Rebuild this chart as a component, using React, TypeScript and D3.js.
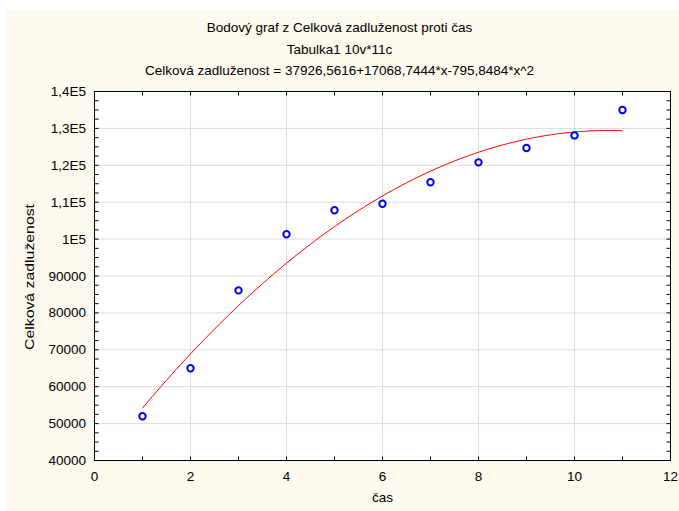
import React from "react";
import * as d3 from "d3";

// Observed values: time (čas) vs total debt (Celková zadluženost)
const casValues = [1, 2, 3, 4, 5, 6, 7, 8, 9, 10, 11];
const zadluzenost = [52000, 65000, 86100, 101300, 107800, 109600, 115400, 120800, 124700, 128100, 135000];

// Quadratic fit coefficients: a + b*x + c*x^2
const fitCoefficients = [37926.5616, 17068.7444, -795.8484];

const xTicks = [0, 2, 4, 6, 8, 10, 12];
const yTicks = [40000, 50000, 60000, 70000, 80000, 90000, 100000, 110000, 120000, 130000, 140000];
const yTickLabels = ["40000", "50000", "60000", "70000", "80000", "90000", "1E5", "1,1E5", "1,2E5", "1,3E5", "1,4E5"];

const titleLines = [
  "Bodový graf z Celková zadluženost proti čas",
  "Tabulka1 10v*11c",
  "Celková zadluženost = 37926,5616+17068,7444*x-795,8484*x^2",
];
const xAxisTitle = "čas";
const yAxisTitle = "Celková zadluženost";

const W = 679;
const H = 511;
const plot = { left: 94.5, top: 91.5, right: 670.5, bottom: 460.5 };
const font = "'Liberation Sans', Arial, sans-serif";
const fs = 13.5;

export default function App() {
  const x = d3.scaleLinear().domain([0, 12]).range([plot.left, plot.right]);
  const y = d3.scaleLinear().domain([40000, 140000]).range([plot.bottom, plot.top]);

  const fit = (t: number) => fitCoefficients[0] + fitCoefficients[1] * t + fitCoefficients[2] * t * t;
  const fitX = d3.range(1, 11.0001, 0.1);
  const fitPath = d3
    .line<number>()
    .x((t) => x(t))
    .y((t) => y(fit(t)))(fitX) as string;

  const xMinor = d3.range(0, 12.001, 1);
  const yMinor = d3.range(40000, 140001, 2500);

  return (
    <svg width={W} height={H} style={{ position: "absolute", left: 0, top: 0 }} fontFamily={font}>
      <rect x={0} y={0} width={W} height={H} fill="#ffffff" />
      <rect x={7} y={10} width={W - 7} height={H - 10} fill="#fdf9ee" />

      {titleLines.map((t, i) => (
        <text key={i} x={339.5} y={32 + i * 21.5} textAnchor="middle" fontSize={fs} fill="#000">
          {t}
        </text>
      ))}

      <rect x={plot.left} y={plot.top} width={plot.right - plot.left} height={plot.bottom - plot.top} fill="#ffffff" />

      {/* grid */}
      {xTicks.slice(1, -1).map((v) => (
        <line key={"gx" + v} x1={x(v)} x2={x(v)} y1={plot.top} y2={plot.bottom} stroke="#dcdcdc" strokeWidth={1} />
      ))}
      {yTicks.slice(1, -1).map((v) => (
        <line key={"gy" + v} x1={plot.left} x2={plot.right} y1={y(v)} y2={y(v)} stroke="#dcdcdc" strokeWidth={1} />
      ))}

      {/* inward ticks on all four sides */}
      {xMinor.map((v) => (
        <g key={"tx" + v}>
          <line x1={x(v)} x2={x(v)} y1={plot.bottom} y2={plot.bottom - 4} stroke="#000" />
          <line x1={x(v)} x2={x(v)} y1={plot.top} y2={plot.top + 4} stroke="#000" />
        </g>
      ))}
      {yMinor.map((v) => (
        <g key={"ty" + v}>
          <line x1={plot.left} x2={plot.left + 4} y1={y(v)} y2={y(v)} stroke="#000" />
          <line x1={plot.right} x2={plot.right - 4} y1={y(v)} y2={y(v)} stroke="#000" />
        </g>
      ))}

      <rect
        x={plot.left}
        y={plot.top}
        width={plot.right - plot.left}
        height={plot.bottom - plot.top}
        fill="none"
        stroke="#000"
        strokeWidth={1}
      />

      {/* fitted curve */}
      <path d={fitPath} fill="none" stroke="#ff0000" strokeWidth={1} />

      {/* observations */}
      {casValues.map((c, i) => (
        <circle key={"p" + i} cx={x(c)} cy={y(zadluzenost[i])} r={3.2} fill="#ffffff" stroke="#0000ff" strokeWidth={2} />
      ))}

      {/* tick labels */}
      {xTicks.map((v) => (
        <text key={"lx" + v} x={x(v)} y={481} textAnchor="middle" fontSize={fs} fill="#000">
          {v}
        </text>
      ))}
      {yTicks.map((v, i) => (
        <text key={"ly" + v} x={86} y={y(v) + 4.5} textAnchor="end" fontSize={fs} fill="#000">
          {yTickLabels[i]}
        </text>
      ))}

      <text x={(plot.left + plot.right) / 2} y={502} textAnchor="middle" fontSize={fs} fill="#000">
        {xAxisTitle}
      </text>
      <text
        transform={`translate(34,277) rotate(-90)`}
        textAnchor="middle"
        fontSize={fs}
        textLength={146}
        lengthAdjust="spacingAndGlyphs"
        fill="#000"
      >
        {yAxisTitle}
      </text>
    </svg>
  );
}
